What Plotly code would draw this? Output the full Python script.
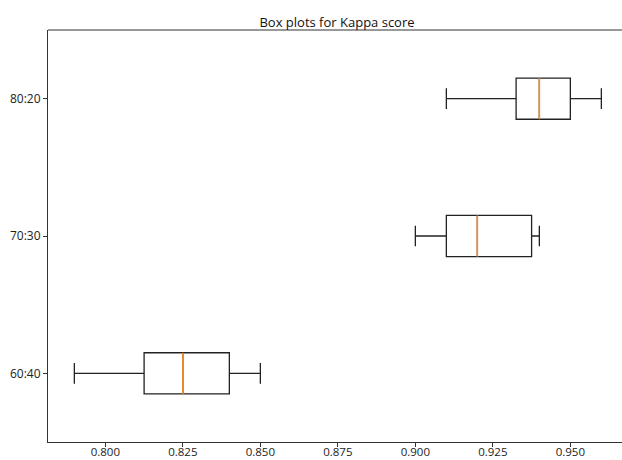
import plotly.graph_objects as go

categories = ["60:40", "70:30", "80:20"]
positions = [1, 2, 3]
lower_whisker = [0.790, 0.900, 0.910]
q1 = [0.8125, 0.910, 0.9325]
median = [0.825, 0.920, 0.940]
q3 = [0.840, 0.9375, 0.950]
upper_whisker = [0.850, 0.940, 0.960]
x_ticks = [0.800, 0.825, 0.850, 0.875, 0.900, 0.925, 0.950]
x_tick_labels = ["0.800", "0.825", "0.850", "0.875", "0.900", "0.925", "0.950"]

box_width = 0.3
frame_color = "#333333"
font_family = "Open Sans, DejaVu Sans, sans-serif"

fig = go.Figure()
fig.add_trace(go.Box(
    orientation="h",
    y=positions,
    q1=q1, median=median, q3=q3,
    lowerfence=lower_whisker, upperfence=upper_whisker,
    width=box_width,
    whiskerwidth=0.5,
    fillcolor="rgba(0,0,0,0)",
    line=dict(color="#222222", width=1.3),
    boxpoints=False,
    hoverinfo="skip",
    showlegend=False,
))

mx, my = [], []
for p, m in zip(positions, median):
    mx += [m, m, None]
    my += [p - box_width / 2, p + box_width / 2, None]
fig.add_trace(go.Scatter(
    x=mx, y=my, mode="lines",
    line=dict(color="#f28e2b", width=1.6),
    hoverinfo="skip", showlegend=False,
))

fig.update_layout(
    width=622, height=460,
    margin=dict(l=48, r=0, t=30, b=18, autoexpand=False),
    paper_bgcolor="white", plot_bgcolor="white",
    font=dict(family=font_family, size=12, color="#222222"),
    title=dict(text="Box plots for Kappa score", x=337 / 622, xanchor="center",
               xref="container", yref="container", y=(460 - 22) / 460,
               yanchor="middle", automargin=False,
               font=dict(size=13, color="#111111")),
    xaxis=dict(range=[0.7815, 0.7815 + 574 / 3100], tickvals=x_ticks,
               ticktext=x_tick_labels, showgrid=False, zeroline=False,
               showline=True, linecolor=frame_color, linewidth=1,
               ticks="outside", ticklen=4, tickcolor=frame_color,
               tickfont=dict(size=11.5), ticklabelstandoff=-5,
               automargin=False),
    yaxis=dict(range=[0.5, 3.5], tickvals=positions, ticktext=categories,
               showgrid=False, zeroline=False, showline=True,
               linecolor=frame_color, linewidth=1, ticks="outside",
               ticklen=4, tickcolor=frame_color, automargin=False),
    shapes=[dict(type="line", xref="paper", yref="paper", x0=0, x1=1,
                 y0=1, y1=1, line=dict(color=frame_color, width=1))],
)

fig.write_html(
    "out.html",
    config={"displayModeBar": False},
    post_script="document.body.style.margin='0';document.body.style.overflow='hidden';",
)
